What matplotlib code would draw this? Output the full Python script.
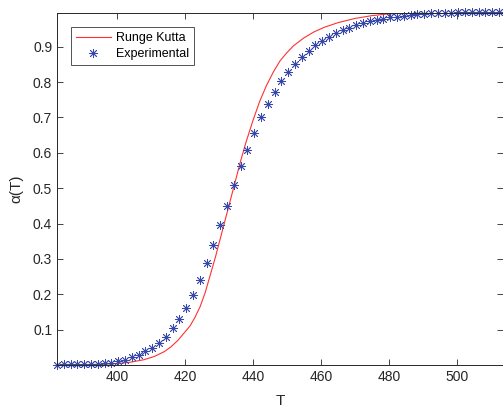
import matplotlib
matplotlib.use("Agg")
import matplotlib.pyplot as plt

T_exp = [382.4, 384.4, 386.4, 388.4, 390.4, 392.4, 394.4, 396.4, 398.4, 400.4,
         402.4, 404.4, 406.4, 408.4, 410.4, 412.4, 414.4, 416.4, 418.4, 420.4,
         422.4, 424.4, 426.4, 428.4, 430.4, 432.4, 434.4, 436.4, 438.4, 440.4,
         442.4, 444.4, 446.4, 448.4, 450.4, 452.4, 454.4, 456.4, 458.4, 460.4,
         462.4, 464.4, 466.4, 468.4, 470.4, 472.4, 474.4, 476.4, 478.4, 480.4,
         482.4, 484.4, 486.4, 488.4, 490.4, 492.4, 494.4, 496.4, 498.4, 500.4,
         502.4, 504.4, 506.4, 508.4, 510.4, 512.4]
alpha_exp = [0.000, 0.002, 0.003, 0.003, 0.003, 0.003, 0.004, 0.005, 0.007, 0.010,
             0.015, 0.023, 0.029, 0.039, 0.049, 0.063, 0.080, 0.104, 0.130, 0.162,
             0.199, 0.241, 0.289, 0.340, 0.396, 0.451, 0.510, 0.563, 0.609, 0.656,
             0.701, 0.738, 0.772, 0.803, 0.828, 0.852, 0.872, 0.888, 0.905, 0.916,
             0.928, 0.938, 0.947, 0.953, 0.961, 0.967, 0.973, 0.977, 0.979, 0.983,
             0.985, 0.987, 0.990, 0.992, 0.993, 0.995, 0.9955, 0.996, 0.996, 0.997,
             0.997, 0.997, 0.997, 0.997, 0.997, 0.997]

# Runge Kutta solution
T_rk = [382.4, 390, 395, 400, 404, 408, 411, 414, 416, 418, 420, 421.5, 423,
        424.5, 426, 427.5, 429, 430.5, 432, 433.5, 435, 436.5, 438, 440, 442,
        444, 446, 448, 450, 452, 455, 458, 461, 465, 470, 475, 480, 490, 500, 513.5]
alpha_rk = [0.000, 0.001, 0.002, 0.004, 0.008, 0.015, 0.024, 0.038, 0.052, 0.070,
            0.093, 0.110, 0.135, 0.165, 0.205, 0.255, 0.305, 0.360, 0.415, 0.470,
            0.525, 0.580, 0.630, 0.690, 0.745, 0.790, 0.828, 0.860, 0.883, 0.903,
            0.925, 0.942, 0.955, 0.968, 0.980, 0.988, 0.993, 0.997, 0.999, 1.000]

xticks = [400, 420, 440, 460, 480, 500]
yticks = [0.1, 0.2, 0.3, 0.4, 0.5, 0.6, 0.7, 0.8, 0.9]

plt.rcParams['font.family'] = ['Liberation Sans', 'DejaVu Sans']
fig = plt.figure(figsize=(5.03, 4.07), dpi=100)
ax = fig.add_axes([57 / 503, 1 - 365 / 407, 1 - 57 / 503, (365 - 13) / 407])

ax.plot(T_rk, alpha_rk, color='#ff3030', lw=0.8, label='Runge Kutta')
ax.plot(T_exp, alpha_exp, linestyle='none', marker=(8, 2, 0), markersize=6.5,
        markeredgewidth=0.6, color='#3848a8', label='Experimental', clip_on=False)

ax.set_xlim(382.4, 513.6)
ax.set_ylim(0, 0.9955)
ax.set_xticks(xticks)
ax.set_yticks(yticks)
ax.set_xticklabels([str(v) for v in xticks])
ax.set_yticklabels([f"{v:.1f}" for v in yticks])

dark = '#262626'
for s in ax.spines.values():
    s.set_color(dark)
    s.set_linewidth(0.7)
ax.tick_params(direction='in', length=4, width=0.6, colors=dark, labelsize=10,
               top=True, right=True, labelcolor=dark)

ax.set_xlabel('T', fontsize=11, color=dark, labelpad=7)
ax.set_ylabel('α(T)', fontsize=11, color=dark, labelpad=7)

leg = ax.legend(loc='upper left', bbox_to_anchor=(0.031, 0.96), fontsize=9,
                frameon=True, fancybox=False, edgecolor=dark, handlelength=2.8,
                borderpad=0.4, labelspacing=0.35, handletextpad=0.4,
                borderaxespad=0)
leg.get_frame().set_linewidth(0.7)

fig.savefig('out.png', dpi=100)
